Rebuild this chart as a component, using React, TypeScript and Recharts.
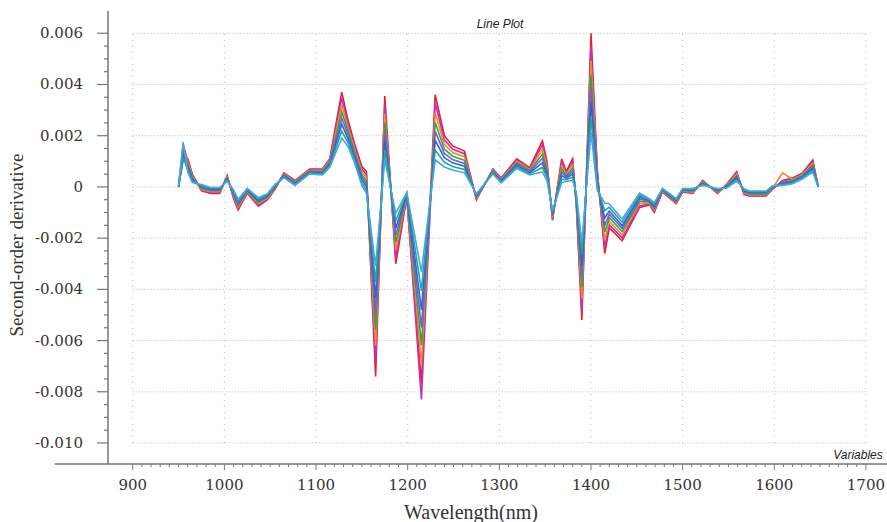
import React from "react";
import { LineChart, Line, XAxis, YAxis, ReferenceLine } from "recharts";

// ---- Data (second-order derivative, in units of 1e-3) ----------------------
const WAVELENGTH = [
  950, 955, 960, 965, 975, 985, 995, 1003, 1010, 1015, 1025, 1037, 1047, 1055,
  1065, 1077, 1093, 1107, 1115, 1128, 1135, 1142, 1150, 1155, 1165, 1175, 1187,
  1199, 1215, 1230, 1240, 1249, 1262, 1275, 1293, 1302, 1319, 1333, 1347, 1352,
  1358, 1368, 1373, 1380, 1384, 1390, 1400, 1407, 1415, 1420, 1434, 1453, 1464,
  1469, 1478, 1493, 1500, 1511, 1522, 1538, 1548, 1559, 1567, 1573, 1591, 1598,
  1609, 1620, 1631, 1642, 1648,
];

const SPEC_RED = [
  0, 1.05, 1.1, 0.5, -0.15, -0.25, -0.25, 0.45, -0.45, -0.9, -0.25, -0.75, -0.5, -0.1,
  0.55, 0.25, 0.7, 0.7, 1.1, 3.7, 2.6, 1.7, 0.8, 0.6, -7.4, 3.55, -3.0,
  -0.4, -7.66, 3.6, 2.0, 1.6, 1.4, -0.5, 0.7, 0.35, 1.1, 0.75, 1.8, 1.0,
  -1.3, 1.1, 0.6, 1.1, -0.7, -5.2, 6.0, 0.6, -2.6, -1.6, -2.1, -0.8, -0.7,
  -1.0, -0.2, -0.65, -0.2, -0.25, 0.25, -0.25, 0.1, 0.6, -0.3, -0.35, -0.35, -0.1,
  0.25, 0.35, 0.55, 1.05, 0,
];
const SPEC_MAGENTA = [
  0, 1.66, 1.03, 0.46, -0.12, -0.22, -0.22, 0.42, -0.41, -0.85, -0.23, -0.71, -0.47, -0.08,
  0.53, 0.23, 0.68, 0.67, 1.06, 3.47, 2.47, 1.6, 0.7, 0.49, -6.85, 3.23, -2.75,
  -0.38, -8.3, 3.28, 1.84, 1.48, 1.29, -0.47, 0.68, 0.33, 1.05, 0.71, 1.64, 0.9,
  -1.25, 0.98, 0.55, 0.99, -0.64, -4.82, 5.51, 0.5, -2.35, -1.48, -1.99, -0.73, -0.67,
  -0.95, -0.18, -0.63, -0.18, -0.23, 0.23, -0.23, 0.08, 0.55, -0.27, -0.33, -0.33, -0.08,
  0.23, 0.32, 0.52, 0.99, 0,
];
const SPEC_ORANGE = [
  0, 1.56, 0.96, 0.41, -0.09, -0.19, -0.19, 0.39, -0.36, -0.78, -0.2, -0.66, -0.44, -0.05,
  0.5, 0.2, 0.65, 0.64, 1.01, 3.21, 2.31, 1.49, 0.59, 0.37, -6.2, 2.86, -2.45,
  -0.35, -6.92, 2.9, 1.66, 1.34, 1.17, -0.44, 0.65, 0.3, 1.0, 0.67, 1.46, 0.79,
  -1.2, 0.84, 0.5, 0.87, -0.57, -4.37, 4.93, 0.39, -2.05, -1.34, -1.87, -0.64, -0.64,
  -0.9, -0.16, -0.6, -0.16, -0.2, 0.2, -0.2, 0.06, 0.5, -0.24, -0.3, -0.3, -0.06,
  0.55, 0.29, 0.49, 0.92, 0,
];
const SPEC_GREEN = [
  0, 1.45, 0.88, 0.36, -0.05, -0.15, -0.15, 0.35, -0.31, -0.72, -0.17, -0.61, -0.4, -0.02,
  0.47, 0.17, 0.62, 0.6, 0.96, 2.94, 2.16, 1.38, 0.48, 0.24, -5.56, 2.49, -2.16,
  -0.32, -6.18, 2.52, 1.48, 1.2, 1.04, -0.4, 0.62, 0.27, 0.94, 0.63, 1.28, 0.68,
  -1.14, 0.7, 0.44, 0.74, -0.5, -3.92, 4.36, 0.28, -1.76, -1.2, -1.74, -0.56, -0.6,
  -0.84, -0.14, -0.57, -0.14, -0.17, 0.17, -0.17, 0.04, 0.44, -0.2, -0.27, -0.27, -0.04,
  0.17, 0.25, 0.45, 0.85, 0,
];
const SPEC_PURPLE = [
  0, 1.35, 0.81, 0.31, -0.02, -0.12, -0.12, 0.32, -0.26, -0.66, -0.14, -0.56, -0.37, 0.01,
  0.44, 0.14, 0.59, 0.57, 0.91, 2.69, 2.02, 1.28, 0.38, 0.12, -4.96, 2.15, -1.89,
  -0.29, -5.49, 2.17, 1.31, 1.07, 0.92, -0.37, 0.59, 0.24, 0.89, 0.59, 1.11, 0.58,
  -1.09, 0.57, 0.39, 0.62, -0.44, -3.5, 3.83, 0.18, -1.49, -1.07, -1.62, -0.48, -0.57,
  -0.79, -0.12, -0.54, -0.12, -0.14, 0.14, -0.14, 0.02, 0.39, -0.17, -0.24, -0.24, -0.02,
  0.14, 0.22, 0.42, 0.79, 0,
];
const SPEC_BLUE = [
  0, 1.26, 0.74, 0.27, 0.02, -0.09, -0.09, 0.29, -0.22, -0.6, -0.12, -0.52, -0.34, 0.03,
  0.42, 0.12, 0.57, 0.54, 0.87, 2.45, 1.87, 1.17, 0.27, 0.01, -4.36, 1.8, -1.61,
  -0.27, -4.8, 1.82, 1.14, 0.94, 0.81, -0.34, 0.57, 0.22, 0.84, 0.55, 0.94, 0.47,
  -1.04, 0.44, 0.34, 0.51, -0.37, -3.09, 3.29, 0.07, -1.21, -0.94, -1.51, -0.4, -0.54,
  -0.74, -0.1, -0.52, -0.1, -0.12, 0.12, -0.12, 0.0, 0.34, -0.14, -0.22, -0.22, 0.0,
  0.12, 0.19, 0.39, 0.72, 0,
];
const SPEC_TEAL = [
  0, 1.15, 0.66, 0.22, 0.05, -0.05, -0.05, 0.25, -0.17, -0.54, -0.09, -0.47, -0.3, 0.06,
  0.39, 0.09, 0.54, 0.5, 0.82, 2.18, 1.72, 1.06, 0.16, -0.12, -3.72, 1.43, -1.32,
  -0.24, -4.06, 1.44, 0.96, 0.8, 0.68, -0.3, 0.54, 0.19, 0.78, 0.51, 0.76, 0.36,
  -0.98, 0.3, 0.28, 0.38, -0.3, -2.64, 2.72, -0.04, -0.92, -0.8, -1.38, -0.32, -0.5,
  -0.68, -0.08, -0.49, -0.08, -0.09, 0.09, -0.09, -0.02, 0.28, -0.1, -0.19, -0.19, 0.02,
  0.09, 0.15, 0.35, 0.65, 0,
];
const SPEC_SKY = [
  0, 1.75, 0.58, 0.17, 0.09, -0.02, -0.02, 0.22, -0.12, -0.48, -0.06, -0.42, -0.27, 0.09,
  0.36, 0.06, 0.51, 0.47, 0.77, 1.91, 1.57, 0.95, 0.05, -0.25, -3.08, 1.06, -1.03,
  -0.21, -3.32, 1.06, 0.78, 0.66, 0.55, -0.27, 0.51, 0.16, 0.72, 0.47, 0.58, 0.25,
  -0.92, 0.16, 0.22, 0.25, -0.23, -2.19, 2.15, -0.15, -0.63, -0.66, -1.25, -0.24, -0.47,
  -0.62, -0.06, -0.46, -0.06, -0.06, 0.06, -0.06, -0.04, 0.22, -0.07, -0.16, -0.16, 0.04,
  0.06, 0.12, 0.32, 0.58, 0,
];

const SERIES = [
  { key: "red", values: SPEC_RED, color: "#e8202a" },
  { key: "magenta", values: SPEC_MAGENTA, color: "#c42fb5" },
  { key: "orange", values: SPEC_ORANGE, color: "#f2882b" },
  { key: "green", values: SPEC_GREEN, color: "#2aa845" },
  { key: "purple", values: SPEC_PURPLE, color: "#7b5bd1" },
  { key: "blue", values: SPEC_BLUE, color: "#2f64d6" },
  { key: "teal", values: SPEC_TEAL, color: "#1fa79a" },
  { key: "sky", values: SPEC_SKY, color: "#46a6dd" },
];

// tick labels
const MAJOR_X = [900, 1000, 1100, 1200, 1300, 1400, 1500, 1600, 1700];
const MAJOR_Y = [6, 4, 2, 0, -2, -4, -6, -8, -10];

// minor ticks: every 10 nm / every 0.0005
const X_TICKS: number[] = [];
for (let v = 900; v <= 1700; v += 10) X_TICKS.push(v);
const Y_TICKS: number[] = [];
for (let k = -20; k <= 12; k++) Y_TICKS.push(k / 2);

const rows = WAVELENGTH.map((wl, i) => {
  const r: Record<string, number> = { wl };
  SERIES.forEach((s) => (r[s.key] = s.values[i]));
  return r;
});

const AXIS = "#767676";
const GRID = "#b8b8b8";
const SERIF = "Times New Roman";
const TICK_FONT = "DejaVu Serif";
const SANS = "Liberation Sans";

const XTick = (props: any) => {
  const { x, y, payload } = props;
  const v = payload.value;
  const major = MAJOR_X.includes(v);
  return (
    <g>
      <line x1={x} x2={x} y1={y} y2={y + (major ? 6 : 3)} stroke={AXIS} strokeWidth={1} />
      {major && (
        <text x={x} y={y + 26} textAnchor="middle" fill="#333" fontSize={15} fontFamily={TICK_FONT}>
          {v}
        </text>
      )}
    </g>
  );
};

const YTick = (props: any) => {
  const { x, y, payload } = props;
  const v = payload.value;
  const major = Math.abs(v % 2) < 1e-9;
  return (
    <g>
      <line x1={x - (major ? 11 : 4)} x2={x} y1={y} y2={y} stroke={AXIS} strokeWidth={1.2} />
      {major && (
        <text x={x - 25} y={y + 5} textAnchor="end" fill="#333" fontSize={15} fontFamily={TICK_FONT}>
          {v === 0 ? "0" : (v / 1000).toFixed(3)}
        </text>
      )}
    </g>
  );
};

export default function App() {
  return (
    <div style={{ position: "absolute", left: 0, top: 0, width: 887, height: 522, background: "#fff" }}>
      <LineChart width={887} height={522} data={rows} margin={{ top: 11, right: 0, bottom: 8, left: 8 }}>
        <XAxis
          dataKey="wl"
          type="number"
          domain={[873, 1723]}
          allowDataOverflow
          ticks={X_TICKS}
          interval={0}
          tick={<XTick />}
          tickSize={0}
          tickMargin={0}
          height={50}
          axisLine={{ stroke: AXIS, strokeWidth: 1.5 }}
        />
        <YAxis
          type="number"
          domain={[-10.82, 6.87]}
          allowDataOverflow
          ticks={Y_TICKS}
          interval={0}
          tick={<YTick />}
          tickSize={0}
          tickMargin={0}
          width={100}
          axisLine={{ stroke: AXIS, strokeWidth: 1.5 }}
        />
        {MAJOR_Y.map((v) => (
          <ReferenceLine
            key={"h" + v}
            segment={[{ x: 900, y: v }, { x: 1700, y: v }]}
            stroke={GRID}
            strokeDasharray="1 2"
            ifOverflow="visible"
          />
        ))}
        {MAJOR_X.map((v) => (
          <ReferenceLine
            key={"v" + v}
            segment={[{ x: v, y: -10 }, { x: v, y: 6 }]}
            stroke={GRID}
            strokeDasharray="1 5"
            ifOverflow="visible"
          />
        ))}
        {/* x axis line runs on past the y axis */}
        <ReferenceLine
          segment={[{ x: 815, y: -10.82 }, { x: 873, y: -10.82 }]}
          stroke={AXIS}
          strokeWidth={1.5}
          ifOverflow="visible"
        />
        {SERIES.map((s) => (
          <Line
            key={s.key}
            dataKey={s.key}
            type="linear"
            stroke={s.color}
            strokeWidth={1.6}
            dot={false}
            isAnimationActive={false}
          />
        ))}
      </LineChart>

      <div style={{ position: "absolute", left: 500, top: 24, transform: "translate(-50%,-50%)", fontFamily: SANS, fontStyle: "italic", fontSize: 12, color: "#222", whiteSpace: "nowrap" }}>
        Line Plot
      </div>
      <div style={{ position: "absolute", left: 858, top: 455, transform: "translate(-50%,-50%)", fontFamily: SANS, fontStyle: "italic", fontSize: 12, color: "#222", whiteSpace: "nowrap" }}>
        Variables
      </div>
      <div style={{ position: "absolute", left: 471, top: 512, transform: "translate(-50%,-50%)", fontFamily: SERIF, fontSize: 20, color: "#333", whiteSpace: "nowrap" }}>
        Wavelength(nm)
      </div>
      <div style={{ position: "absolute", left: 17, top: 245, transform: "translate(-50%,-50%) rotate(-90deg)", fontFamily: SERIF, fontSize: 19, color: "#333", whiteSpace: "nowrap" }}>
        Second-order derivative
      </div>
    </div>
  );
}
